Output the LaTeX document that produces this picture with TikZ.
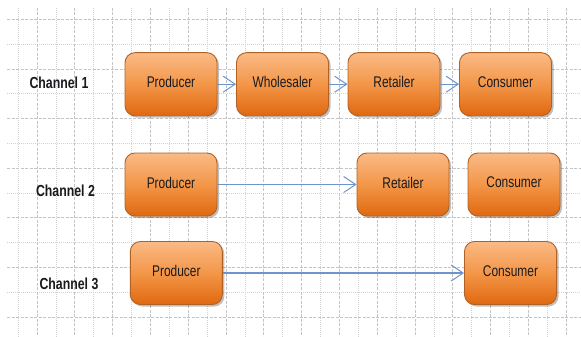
\documentclass[tikz,border=0pt]{standalone}
\usepackage{fontspec}
\setmainfont{Liberation Sans}[FakeStretch=0.77]
\usetikzlibrary{arrows.meta,shadows}

\definecolor{gridgray}{RGB}{196,196,196}
\definecolor{gridlight}{RGB}{210,210,210}
\definecolor{boxtop}{RGB}{250,186,134}
\definecolor{boxmid}{RGB}{243,150,72}
\definecolor{boxbot}{RGB}{224,104,16}
\definecolor{boxedge}{RGB}{176,98,36}
\definecolor{flowblue}{RGB}{110,148,204}
\definecolor{inktext}{RGB}{26,26,30}

\tikzset{
  gridline/.style={draw=gridgray, line width=0.6pt, dash pattern=on 3pt off 1.5pt},
  gridminor/.style={draw=gridlight, line width=0.6pt, dash pattern=on 1pt off 1pt},
  stagebox/.style={
    rectangle, rounded corners=10pt, draw=boxedge, line width=0.9pt,
    top color=boxtop, bottom color=boxbot, middle color=boxmid,
    minimum width=92pt, minimum height=63pt, inner sep=0pt,
    text depth=4pt, text=inktext, font=\fontsize{15.5}{17}\selectfont,
    drop shadow={shadow xshift=2pt, shadow yshift=-2pt, opacity=0.25, fill=black}
  },
  channellabel/.style={font=\fontsize{16}{18}\selectfont\bfseries, text=inktext, inner sep=0pt},
  flow/.style={draw=flowblue, line width=1.1pt, -{Straight Barb[length=12pt, width=16pt, line width=1pt]}}
}

\begin{document}
\begin{tikzpicture}[x=1pt, y=-1pt]
  \useasboundingbox (0,0) rectangle (581,337);

  % background grid: dashed major lines alternating with dotted minor ones
  \foreach \k in {0,...,12} {
    \pgfmathtruncatemacro{\odd}{mod(\k,2)}
    \ifnum\odd=0
      \draw[gridline] (7, 19.3+24.8*\k) -- (581, 19.3+24.8*\k);
    \else
      \draw[gridminor] (7, 19.3+24.8*\k) -- (581, 19.3+24.8*\k);
    \fi
  }
  \foreach \k in {0,...,29} {
    \pgfmathtruncatemacro{\odd}{mod(\k,2)}
    \ifnum\odd=1
      \draw[gridline] (18+18.9*\k, 8) -- (18+18.9*\k, 337);
    \else
      \draw[gridminor] (18+18.9*\k, 8) -- (18+18.9*\k, 337);
    \fi
  }

  % channel labels
  \node[channellabel] (ch1) at (59, 83) {Channel 1};
  \node[channellabel] (ch2) at (65.5, 190.5) {Channel 2};
  \node[channellabel] (ch3) at (69, 284) {Channel 3};

  % channel 1
  \node[stagebox] (p1) at (171, 84.2) {Producer};
  \node[stagebox] (w1) at (282.5, 84.2) {Wholesaler};
  \node[stagebox] (r1) at (394, 84.2) {Retailer};
  \node[stagebox] (c1) at (505.5, 84.2) {Consumer};

  % channel 2
  \node[stagebox] (p2) at (171, 184.5) {Producer};
  \node[stagebox] (r2) at (403, 184.5) {Retailer};
  \node[stagebox] (c2) at (514, 184.5) {Consumer};

  % channel 3
  \node[stagebox] (p3) at (176.3, 273) {Producer};
  \node[stagebox] (c3) at (510.5, 273) {Consumer};

  % flows
  \draw[flow] (p1) -- (w1);
  \draw[flow] (w1) -- (r1);
  \draw[flow] (r1) -- (c1);
  \draw[flow] (p2) -- (r2);
  \draw[flow] (p3) -- (c3);
\end{tikzpicture}
\end{document}
